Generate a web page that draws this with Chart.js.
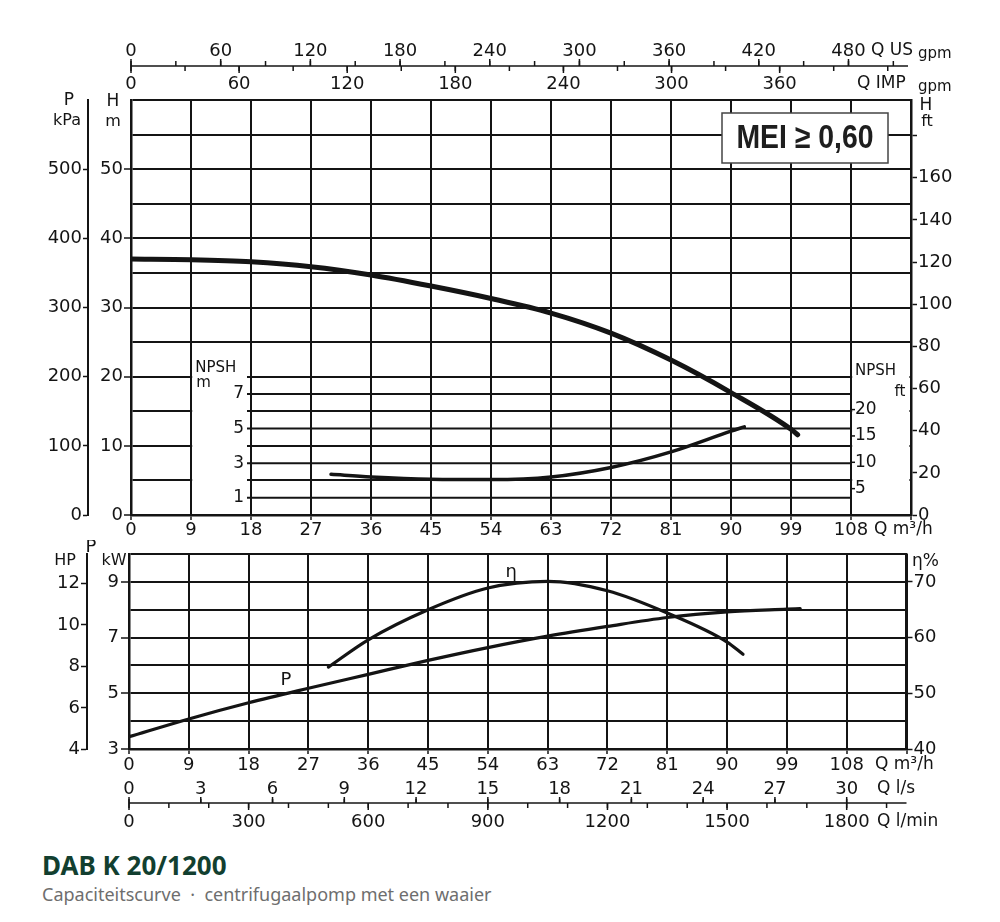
<!DOCTYPE html>
<html><head><meta charset="utf-8">
<script src="https://cdn.jsdelivr.net/npm/chart.js@4.4.1/dist/chart.umd.min.js"></script>
<style>
html,body{margin:0;padding:0;background:#fff;}
body{width:1000px;height:922px;position:relative;overflow:hidden;}
#c1{position:absolute;left:0;top:0;}
#c2{position:absolute;left:0;top:540px;}
#title{position:absolute;left:42px;top:852px;font:bold 26px/26px 'Noto Sans',sans-serif;color:#123f30;white-space:pre;}
#sub{position:absolute;left:42px;top:885px;font:18px/18px 'Noto Sans',sans-serif;color:#6e6e6e;white-space:pre;}
</style></head>
<body>
<canvas id="c1" width="1000" height="540"></canvas>
<canvas id="c2" width="1000" height="300"></canvas>
<div id="title">DAB K 20/1200</div>
<div id="sub">Capaciteitscurve  ·  centrifugaalpomp met een waaier</div>
<script>
// ---------- DATA ----------
const Q_H    = [0, 9, 18, 27, 36, 45, 54, 63, 72, 81, 90, 99, 100];
const H_M    = [37.0, 36.9, 36.6, 35.9, 34.7, 33.1, 31.3, 29.2, 26.3, 22.4, 17.7, 12.4, 11.6];
const Q_NPSH = [30, 36, 45, 54, 63, 72, 81, 90, 92];
const NPSH_M = [2.35, 2.2, 2.07, 2.05, 2.2, 2.75, 3.65, 4.85, 5.1];
const Q_P    = [0, 9, 18, 27, 36, 45, 54, 63, 72, 81, 90, 99, 101];
const P_KW   = [3.44, 4.08, 4.66, 5.18, 5.68, 6.18, 6.64, 7.05, 7.4, 7.72, 7.92, 8.02, 8.04];
const Q_ETA  = [30, 36, 45, 54, 63, 72, 81, 90, 92.4];
const ETA    = [54.7, 59.6, 65.0, 68.9, 70.1, 68.4, 64.4, 59.2, 57.0];

// ---------- TICKS ----------
const Q_TICKS      = [0, 9, 18, 27, 36, 45, 54, 63, 72, 81, 90, 99, 108, 117];
const H_TICKS      = [0, 5, 10, 15, 20, 25, 30, 35, 40, 45, 50, 55, 60];
const H_LABELS     = [0, 10, 20, 30, 40, 50];
const KPA_TICKS    = [0, 100, 200, 300, 400, 500];
const FT_TICKS     = [0, 10, 20, 30, 40, 50, 60, 70, 80, 90, 100, 110, 120, 130, 140, 150, 160, 170, 180, 190];
const FT_LABELS    = [0, 20, 40, 60, 80, 100, 120, 140, 160];
const NPSH_M_LINES = [1, 3, 5, 7];
const NPSH_FT_LABELS = [5, 10, 15, 20];
const US_MINOR     = [0, 30, 60, 90, 120, 150, 180, 210, 240, 270, 300, 330, 360, 390, 420, 450, 480, 510];
const US_LABELS    = [0, 60, 120, 180, 240, 300, 360, 420, 480];
const IMP_MINOR    = [0, 30, 60, 90, 120, 150, 180, 210, 240, 270, 300, 330, 360, 390, 420];
const IMP_LABELS   = [0, 60, 120, 180, 240, 300, 360];
const KW_TICKS     = [3, 4, 5, 6, 7, 8, 9, 10];
const KW_LABELS    = [3, 5, 7, 9];
const HP_TICKS     = [4, 6, 8, 10, 12];
const ETA_TICKS    = [40, 50, 60, 70];
const LS_LABELS    = [0, 3, 6, 9, 12, 15, 18, 21, 24, 27, 30];
const LMIN_MINOR   = [0, 100, 200, 300, 400, 500, 600, 700, 800, 900, 1000, 1100, 1200, 1300, 1400, 1500, 1600, 1700, 1800, 1900];
const LMIN_LABELS  = [0, 300, 600, 900, 1200, 1500, 1800];

// unit conversions (to m3/h) as read from the sheet
const US_PER_M3H = 4.46, IMP_PER_M3H = 3.70, LS_PER_M3H = 1/3.6, LMIN_PER_M3H = 1/0.06;
const M_TO_FT = 3.28084, KW_TO_HP = 1.34102;

// ---------- STYLE ----------
const INK = '#141414';
const FAM = "'DejaVu Sans', sans-serif";
const tickFont = {family: FAM, size: 18};

function fixSize(prop, size) {
  return s => { s[prop] = size; s.paddingTop = 0; s.paddingBottom = 0; s.paddingLeft = 0; s.paddingRight = 0; };
}
function useTicks(arr) { return s => { s.ticks = arr.map(v => ({value: v})); }; }
function pts(xs, ys) { return xs.map((q, i) => ({x: q, y: ys[i]})); }

function text(ctx, str, x, y, size, align) {
  ctx.font = size + 'px ' + FAM;
  ctx.textAlign = align || 'center';
  ctx.textBaseline = 'middle';
  ctx.fillText(str, x, y);
}

function auxAxis(ctx, xs, cfg) {
  cfg.minor.forEach(v => {
    const px = xs.getPixelForValue(v / cfg.conv);
    if (px > xs.right - 2) return;
    ctx.beginPath(); ctx.moveTo(px, cfg.yLine); ctx.lineTo(px, cfg.yLine + cfg.dir * cfg.len); ctx.stroke();
  });
  cfg.labels.forEach(v => {
    const px = xs.getPixelForValue(v / cfg.conv);
    ctx.beginPath(); ctx.moveTo(px, cfg.yLine); ctx.lineTo(px, cfg.yLine + cfg.dir * (cfg.len + 2)); ctx.stroke();
    text(ctx, String(v), px, cfg.labelY, 18);
  });
}

// ---------- UPPER CHART ----------
const upperDeco = {
  id: 'upperDeco',
  beforeDatasetsDraw(chart) {
    const {ctx, scales: {x, y, npsh}} = chart;
    ctx.save();
    const yTop = y.getPixelForValue(24), yBot = y.getPixelForValue(0) - 1.6;
    ctx.fillStyle = '#fff';
    const xa = x.getPixelForValue(9) + 1.2, xb = x.getPixelForValue(17.4);
    ctx.fillRect(xa, yTop, xb - xa, yBot - yTop);
    const xc = x.getPixelForValue(108) + 1.2, xd = x.getPixelForValue(117) - 1.6;
    ctx.fillRect(xc, yTop, xd - xc, yBot - yTop);
    ctx.strokeStyle = INK; ctx.fillStyle = INK; ctx.lineWidth = 2;
    NPSH_M_LINES.forEach(v => {
      const py = npsh.getPixelForValue(v);
      ctx.beginPath(); ctx.moveTo(xb, py); ctx.lineTo(x.getPixelForValue(108), py); ctx.stroke();
      text(ctx, String(v), xb - 3, py, 17, 'right');
    });
    const x108 = x.getPixelForValue(108);
    ctx.lineWidth = 1.5;
    NPSH_FT_LABELS.forEach(v => {
      const py = npsh.getPixelForValue(v / M_TO_FT);
      ctx.beginPath(); ctx.moveTo(x108, py); ctx.lineTo(x108 + 4, py); ctx.stroke();
      text(ctx, String(v), x108 + 4, py, 17, 'left');
    });
    text(ctx, 'NPSH', xa + 3, npsh.getPixelForValue(8.5), 15, 'left');
    text(ctx, 'm', xa + 4, npsh.getPixelForValue(7.6), 15, 'left');
    text(ctx, 'NPSH', x108 + 4, npsh.getPixelForValue(8.35), 15, 'left');
    text(ctx, 'ft', xd - 4, npsh.getPixelForValue(7.1), 15, 'right');
    ctx.restore();
  },
  afterDraw(chart) {
    const {ctx, chartArea: ca, scales: {x}} = chart;
    ctx.save();
    ctx.fillStyle = INK; ctx.strokeStyle = INK;
    // MEI box
    const bw = 166, bh = 50, bx = ca.right - 23 - bw, by = ca.top + 13;
    ctx.fillStyle = '#fff'; ctx.fillRect(bx, by, bw, bh);
    ctx.lineWidth = 1.5; ctx.strokeStyle = '#444'; ctx.strokeRect(bx, by, bw, bh);
    ctx.save();
    ctx.fillStyle = '#1e1e1e';
    ctx.translate(bx + bw / 2, by + bh / 2 + 1);
    ctx.scale(0.86, 1);
    ctx.font = "bold 33px 'Liberation Sans', sans-serif";
    ctx.textAlign = 'center'; ctx.textBaseline = 'middle';
    ctx.fillText('MEI \u2265 0,60', 0, 0);
    ctx.restore();
    ctx.fillStyle = INK; ctx.strokeStyle = INK;
    // axis titles
    text(ctx, 'P', 69, 101, 17);
    text(ctx, 'kPa', 67, 121, 16);
    text(ctx, 'H', 113, 102, 17);
    text(ctx, 'm', 113, 122, 16);
    text(ctx, 'H', ca.right + 15, 106, 17);
    text(ctx, 'ft', ca.right + 16, 122, 16);
    text(ctx, 'Q m\u00b3/h', 874, 530, 17, 'left');
    // top gpm axes
    const yLine = 66;
    ctx.lineWidth = 1.6;
    ctx.beginPath(); ctx.moveTo(x.getPixelForValue(0), yLine); ctx.lineTo(ca.right - 3, yLine); ctx.stroke();
    ctx.lineWidth = 1.5;
    auxAxis(ctx, x, {yLine, conv: US_PER_M3H, minor: US_MINOR, labels: US_LABELS, dir: -1, labelY: 51, len: 5});
    auxAxis(ctx, x, {yLine, conv: IMP_PER_M3H, minor: IMP_MINOR, labels: IMP_LABELS, dir: 1, labelY: 84, len: 5});
    text(ctx, 'Q US', 871, 51, 17, 'left');
    text(ctx, 'gpm', 918, 54, 15, 'left');
    text(ctx, 'Q IMP', 857, 84, 17, 'left');
    text(ctx, 'gpm', 918, 87, 15, 'left');
    ctx.restore();
  }
};

new Chart(document.getElementById('c1'), {
  type: 'line',
  data: {datasets: [
    {label: 'H', data: pts(Q_H, H_M), yAxisID: 'y', borderColor: INK, borderWidth: 5, pointRadius: 0, cubicInterpolationMode: 'monotone', borderCapStyle: 'round'},
    {label: 'NPSH', data: pts(Q_NPSH, NPSH_M), yAxisID: 'npsh', borderColor: INK, borderWidth: 3.5, pointRadius: 0, cubicInterpolationMode: 'monotone', borderCapStyle: 'round'}
  ]},
  options: {
    responsive: false, animation: false, devicePixelRatio: 1,
    layout: {padding: {top: 100, left: 0, right: 0, bottom: 0}},
    plugins: {legend: {display: false}, tooltip: {enabled: false}},
    scales: {
      x: {type: 'linear', position: 'bottom', min: 0, max: 117,
        afterBuildTicks: useTicks(Q_TICKS), afterFit: fixSize('height', 25),
        grid: {color: INK, lineWidth: 2, tickLength: 5, tickColor: INK, tickWidth: 1.5},
        border: {display: true, color: INK, width: 2.5},
        ticks: {autoSkip: false, maxRotation: 0, padding: 0, color: INK, font: tickFont, callback: v => v <= 108 ? v : ''}},
      y: {type: 'linear', position: 'left', weight: 0, min: 0, max: 60,
        afterBuildTicks: useTicks(H_TICKS), afterFit: fixSize('width', 43),
        grid: {color: INK, lineWidth: 2, tickLength: 7, tickWidth: 1.5, tickColor: c => H_LABELS.includes(c.tick.value) ? INK : 'rgba(0,0,0,0)'},
        border: {display: true, color: INK, width: 2.5},
        ticks: {padding: 1, color: INK, font: tickFont, callback: v => H_LABELS.includes(v) ? v : ''}},
      kpa: {type: 'linear', position: 'left', weight: 1, min: 0, max: 600,
        afterBuildTicks: useTicks(KPA_TICKS), afterFit: fixSize('width', 88),
        grid: {drawOnChartArea: false, tickLength: 5, tickColor: INK, tickWidth: 1.5},
        border: {display: true, color: INK, width: 2},
        ticks: {padding: 1, color: INK, font: tickFont}},
      ft: {type: 'linear', position: 'right', min: 0, max: 60 * M_TO_FT,
        afterBuildTicks: useTicks(FT_TICKS), afterFit: fixSize('width', 89),
        grid: {drawOnChartArea: false, tickLength: 6, tickColor: INK, tickWidth: 1.5},
        border: {display: true, color: INK, width: 2.5},
        ticks: {padding: 1, color: INK, font: tickFont, callback: v => FT_LABELS.includes(v) ? v : ''}},
      npsh: {type: 'linear', display: false, min: 0, max: 24}
    }
  },
  plugins: [upperDeco]
});

// ---------- LOWER CHART ----------
const lowerDeco = {
  id: 'lowerDeco',
  afterDraw(chart) {
    const {ctx, chartArea: ca, scales: {x, kw, eta}} = chart;
    ctx.save();
    ctx.fillStyle = INK; ctx.strokeStyle = INK;
    text(ctx, 'P', x.getPixelForValue(23.6), kw.getPixelForValue(5.45), 18);
    text(ctx, '\u03b7', x.getPixelForValue(57.5), eta.getPixelForValue(71.8), 18);
    text(ctx, 'HP', 65, 21, 16);
    text(ctx, 'P', 91, 7, 18);
    text(ctx, 'kW', 114, 21, 16);
    text(ctx, '\u03b7%', ca.right + 19, 22, 17);
    text(ctx, 'Q m\u00b3/h', 875, 225, 17, 'left');
    const yLine = 263;
    ctx.lineWidth = 1.6;
    ctx.beginPath(); ctx.moveTo(x.getPixelForValue(0), yLine); ctx.lineTo(ca.right, yLine); ctx.stroke();
    ctx.lineWidth = 1.5;
    auxAxis(ctx, x, {yLine, conv: LS_PER_M3H, minor: LS_LABELS, labels: LS_LABELS, dir: -1, labelY: 249, len: 4});
    auxAxis(ctx, x, {yLine, conv: LMIN_PER_M3H, minor: LMIN_MINOR, labels: LMIN_LABELS, dir: 1, labelY: 282, len: 5});
    text(ctx, 'Q l/s', 877, 249, 17, 'left');
    text(ctx, 'Q l/min', 877, 282, 17, 'left');
    ctx.restore();
  }
};

new Chart(document.getElementById('c2'), {
  type: 'line',
  data: {datasets: [
    {label: 'P', data: pts(Q_P, P_KW), yAxisID: 'kw', borderColor: INK, borderWidth: 3.2, pointRadius: 0, cubicInterpolationMode: 'monotone', borderCapStyle: 'round'},
    {label: '\u03b7', data: pts(Q_ETA, ETA), yAxisID: 'eta', borderColor: INK, borderWidth: 3.2, pointRadius: 0, cubicInterpolationMode: 'monotone', borderCapStyle: 'round'}
  ]},
  options: {
    responsive: false, animation: false, devicePixelRatio: 1,
    layout: {padding: {top: 14, left: 0, right: 0, bottom: 0}},
    plugins: {legend: {display: false}, tooltip: {enabled: false}},
    scales: {
      x: {type: 'linear', position: 'bottom', min: 0, max: 117,
        afterBuildTicks: useTicks(Q_TICKS), afterFit: fixSize('height', 91),
        grid: {color: INK, lineWidth: 2, tickLength: 5, tickColor: INK, tickWidth: 1.5},
        border: {display: true, color: INK, width: 2.5},
        ticks: {autoSkip: false, maxRotation: 0, padding: 1, color: INK, font: tickFont, callback: v => v <= 108 ? v : ''}},
      kw: {type: 'linear', position: 'left', weight: 0, min: 3, max: 10,
        afterBuildTicks: useTicks(KW_TICKS), afterFit: fixSize('width', 42),
        grid: {color: INK, lineWidth: 2, tickLength: 8, tickWidth: 1.5, tickColor: c => KW_LABELS.includes(c.tick.value) ? INK : 'rgba(0,0,0,0)'},
        border: {display: true, color: INK, width: 2.5},
        ticks: {padding: 2, color: INK, font: tickFont, callback: v => KW_LABELS.includes(v) ? v : ''}},
      hp: {type: 'linear', position: 'left', weight: 1, min: 3 * KW_TO_HP, max: 10 * KW_TO_HP,
        afterBuildTicks: useTicks(HP_TICKS), afterFit: fixSize('width', 87),
        grid: {drawOnChartArea: false, tickLength: 6, tickColor: INK, tickWidth: 1.5},
        border: {display: true, color: INK, width: 2},
        ticks: {padding: 1, color: INK, font: tickFont}},
      eta: {type: 'linear', position: 'right', min: 40, max: 75,
        afterBuildTicks: useTicks(ETA_TICKS), afterFit: fixSize('width', 93.5),
        grid: {drawOnChartArea: false, tickLength: 6, tickColor: INK, tickWidth: 1.5},
        border: {display: true, color: INK, width: 2.5},
        ticks: {padding: 1, color: INK, font: tickFont}}
    }
  },
  plugins: [lowerDeco]
});
</script>
</body></html>
